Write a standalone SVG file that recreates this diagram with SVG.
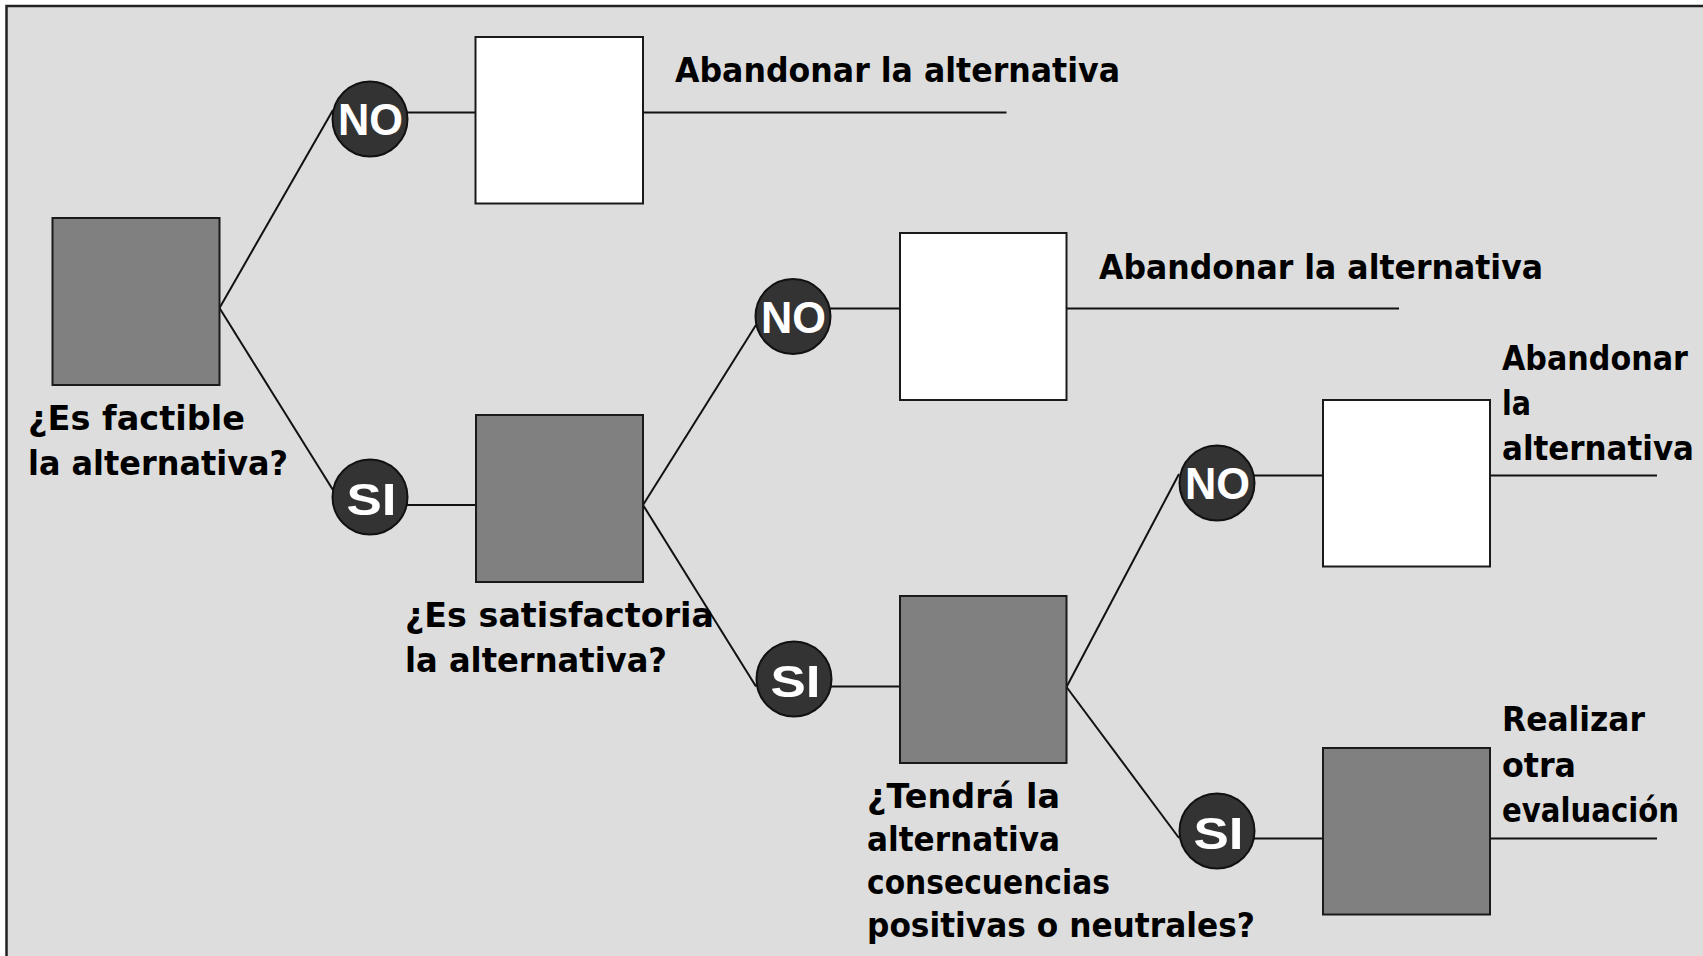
<svg xmlns="http://www.w3.org/2000/svg" width="1703" height="956" viewBox="0 0 1703 956">
<style>
  .frame { fill: #dddddd; stroke: #222222; stroke-width: 2.5; }
  .box { stroke: #1a1a1a; stroke-width: 2; }
  .dark { fill: #808080; }
  .light { fill: #ffffff; }
  .circ { fill: #333333; stroke: #111111; stroke-width: 2; }
  .ctext { font-family: "Liberation Sans", Arial, sans-serif; font-weight: bold; font-size: 45px; fill: #ffffff; text-anchor: middle; }
  .lbl { font-family: "DejaVu Sans", "Liberation Sans", sans-serif; font-weight: bold; font-size: 33px; fill: #000000; }
  .conn line { stroke: #111111; stroke-width: 2; fill: none; }
</style>
<rect x="0" y="0" width="1703" height="956" fill="#ffffff"/>
<rect class="frame" x="6.5" y="6" width="1710" height="970"/>

<g id="connectors" class="conn">
  <line x1="219.5" y1="308" x2="333" y2="110"/>
  <line x1="219.5" y1="308" x2="333" y2="490"/>
  <line x1="407" y1="112.5" x2="475.5" y2="112.5"/>
  <line x1="407" y1="505" x2="476" y2="505"/>
  <line x1="643" y1="112.5" x2="1006.5" y2="112.5"/>
  <line x1="643" y1="505" x2="756" y2="325"/>
  <line x1="643" y1="505" x2="756" y2="686.5"/>
  <line x1="830" y1="308.5" x2="900" y2="308.5"/>
  <line x1="831" y1="686.5" x2="900" y2="686.5"/>
  <line x1="1066.5" y1="308.5" x2="1399" y2="308.5"/>
  <line x1="1066.5" y1="687" x2="1179" y2="474"/>
  <line x1="1066.5" y1="687" x2="1179" y2="838"/>
  <line x1="1254" y1="475.5" x2="1323" y2="475.5"/>
  <line x1="1254" y1="838.5" x2="1323" y2="838.5"/>
  <line x1="1490" y1="475.5" x2="1657" y2="475.5"/>
  <line x1="1490" y1="838.5" x2="1657" y2="838.5"/>
</g>

<g id="decision-factible">
  <rect class="box dark" x="52.5" y="218" width="167" height="167"/>
  <text class="lbl" x="28" y="430" textLength="217" lengthAdjust="spacingAndGlyphs">¿Es factible</text>
  <text class="lbl" x="28" y="475" textLength="260" lengthAdjust="spacingAndGlyphs">la alternativa?</text>
</g>

<g id="no-1">
  <circle class="circ" cx="370" cy="119" r="37.5"/>
  <text class="ctext" x="370.5" y="135" textLength="65" lengthAdjust="spacingAndGlyphs">NO</text>
</g>

<g id="si-1">
  <circle class="circ" cx="370" cy="497" r="37.5"/>
  <text class="ctext" x="371.5" y="515" textLength="50" lengthAdjust="spacingAndGlyphs">SI</text>
</g>

<g id="abandon-1">
  <rect class="box light" x="475.5" y="37" width="167.5" height="166.5"/>
  <text class="lbl" x="675" y="82" textLength="445" lengthAdjust="spacingAndGlyphs">Abandonar la alternativa</text>
</g>

<g id="decision-satisfactoria">
  <rect class="box dark" x="476" y="415" width="167" height="167"/>
  <text class="lbl" x="405" y="627" textLength="309" lengthAdjust="spacingAndGlyphs">¿Es satisfactoria</text>
  <text class="lbl" x="405" y="672" textLength="262" lengthAdjust="spacingAndGlyphs">la alternativa?</text>
</g>

<g id="no-2">
  <circle class="circ" cx="793" cy="316.5" r="37.5"/>
  <text class="ctext" x="793.5" y="333" textLength="65" lengthAdjust="spacingAndGlyphs">NO</text>
</g>

<g id="si-2">
  <circle class="circ" cx="794" cy="679" r="37.5"/>
  <text class="ctext" x="795.5" y="697" textLength="50" lengthAdjust="spacingAndGlyphs">SI</text>
</g>

<g id="abandon-2">
  <rect class="box light" x="900" y="233" width="166.5" height="167"/>
  <text class="lbl" x="1099" y="279" textLength="444" lengthAdjust="spacingAndGlyphs">Abandonar la alternativa</text>
</g>

<g id="decision-consecuencias">
  <rect class="box dark" x="900" y="596" width="166.5" height="167"/>
  <text class="lbl" x="867" y="808" textLength="193" lengthAdjust="spacingAndGlyphs">¿Tendrá la</text>
  <text class="lbl" x="867" y="851" textLength="193" lengthAdjust="spacingAndGlyphs">alternativa</text>
  <text class="lbl" x="867" y="894" textLength="243" lengthAdjust="spacingAndGlyphs">consecuencias</text>
  <text class="lbl" x="867" y="937" textLength="388" lengthAdjust="spacingAndGlyphs">positivas o neutrales?</text>
</g>

<g id="no-3">
  <circle class="circ" cx="1217" cy="483" r="37.5"/>
  <text class="ctext" x="1217.5" y="499" textLength="65" lengthAdjust="spacingAndGlyphs">NO</text>
</g>

<g id="si-3">
  <circle class="circ" cx="1217" cy="831" r="37.5"/>
  <text class="ctext" x="1218.5" y="849" textLength="50" lengthAdjust="spacingAndGlyphs">SI</text>
</g>

<g id="abandon-3">
  <rect class="box light" x="1323" y="400" width="167" height="166.5"/>
  <text class="lbl" x="1502" y="370" textLength="186" lengthAdjust="spacingAndGlyphs">Abandonar</text>
  <text class="lbl" x="1502" y="415" textLength="29" lengthAdjust="spacingAndGlyphs">la</text>
  <text class="lbl" x="1502" y="459.5" textLength="192" lengthAdjust="spacingAndGlyphs">alternativa</text>
</g>

<g id="otra-evaluacion">
  <rect class="box dark" x="1323" y="748" width="167" height="166.5"/>
  <text class="lbl" x="1502" y="731" textLength="143" lengthAdjust="spacingAndGlyphs">Realizar</text>
  <text class="lbl" x="1502" y="777" textLength="74" lengthAdjust="spacingAndGlyphs">otra</text>
  <text class="lbl" x="1502" y="822" textLength="177" lengthAdjust="spacingAndGlyphs">evaluación</text>
</g>
</svg>
